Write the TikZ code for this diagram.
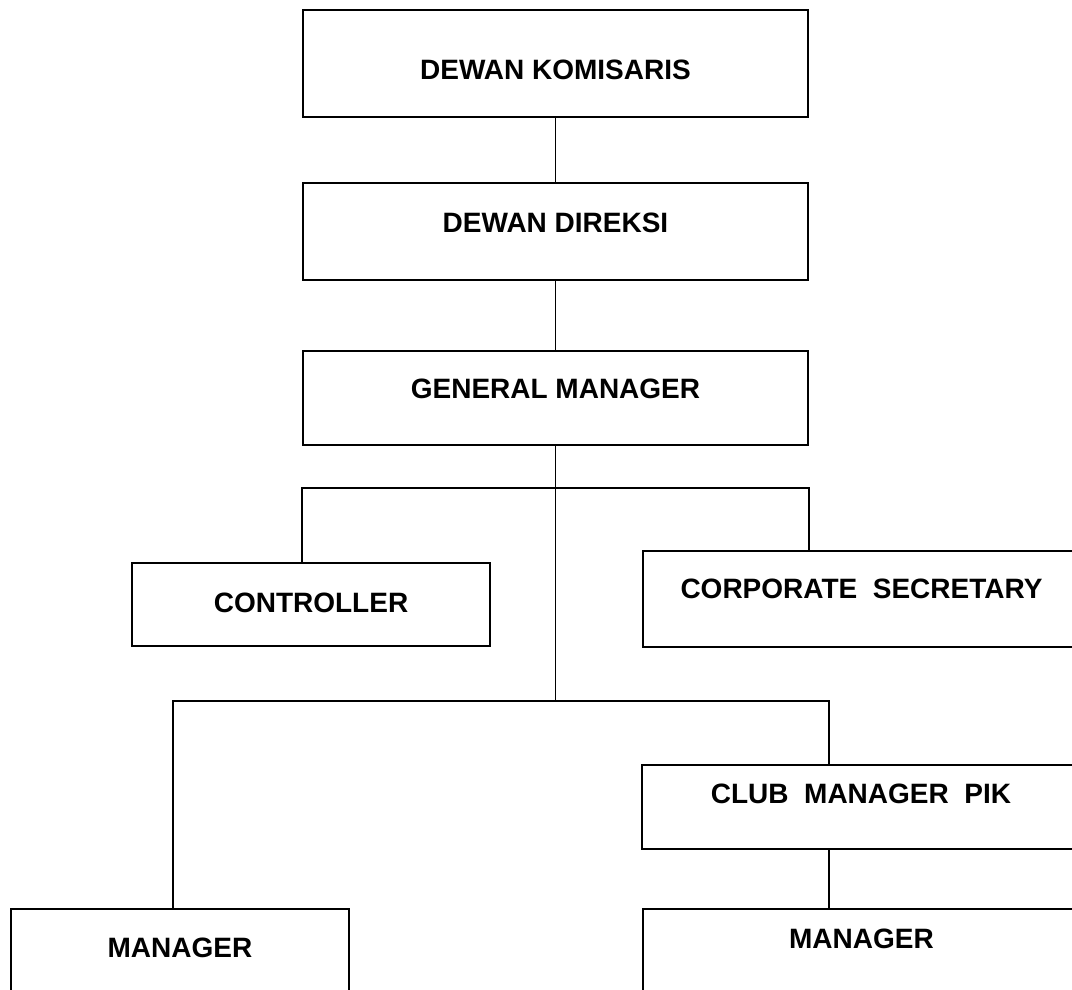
\documentclass[tikz,border=0pt]{standalone}
\usepackage{fontspec}
\setmainfont{Liberation Sans}
\usetikzlibrary{calc}
\tikzset{
   box/.style={draw, line width=2pt, inner sep=0pt,
      text height=20pt, text depth=0pt,
      font=\bfseries\fontsize{28}{32}\selectfont},
   link/.style={draw, line width=1.5pt},
    }

\begin{document}
\begin{tikzpicture}[x=1pt, y=-1pt]
   \useasboundingbox (0,0) rectangle (1072,990);
   \clip (0,0) rectangle (1072,990);
   % boxes
   \node[box, minimum width=505pt, minimum height=107pt, text height=33pt] (kom) at (555.5,63.5) {DEWAN KOMISARIS};
   \node[box, minimum width=505pt, minimum height=97pt, text depth=19pt] (dir) at (555.5,231.5) {DEWAN DIREKSI};
   \node[box, minimum width=505pt, minimum height=94pt, text depth=20pt] (gm) at (555.5,398) {GENERAL MANAGER};
   \node[box, minimum width=358pt, minimum height=83pt, text depth=5pt] (ctrl) at (311,604.5) {CONTROLLER};
   \node[box, minimum width=437pt, minimum height=96pt, text depth=22pt] (corp) at (861.5,599) {CORPORATE\ \ SECRETARY};
   \node[box, minimum width=438pt, minimum height=84pt, text depth=28pt] (club) at (861,807) {CLUB\ \ MANAGER\ \ PIK};
   \node[box, minimum width=338pt, minimum height=120pt, text depth=44pt] (mgrl) at (180,969) {MANAGER};
   \node[box, minimum width=437pt, minimum height=120pt, text depth=62pt] (mgrr) at (861.5,969) {MANAGER};
   \coordinate (j1) at (555.5,488);
   \coordinate (j2) at (555.5,701);
   % lines
   \draw[link] (kom) -- (dir);
   \draw[link] (dir) -- (gm);
   \draw[link] (gm) -- (j2);
   \draw[link] (ctrl.north -| gm.west) |- (j1) -| (corp.north -| gm.east);
   \draw[link] ([xshift=-7pt]mgrl.north) |- (j2) -| ([xshift=-32pt]club.north);
   \draw[link] ([xshift=-32pt]club.south) -- ([xshift=-32.5pt]mgrr.north);
\end{tikzpicture}
\end{document}
